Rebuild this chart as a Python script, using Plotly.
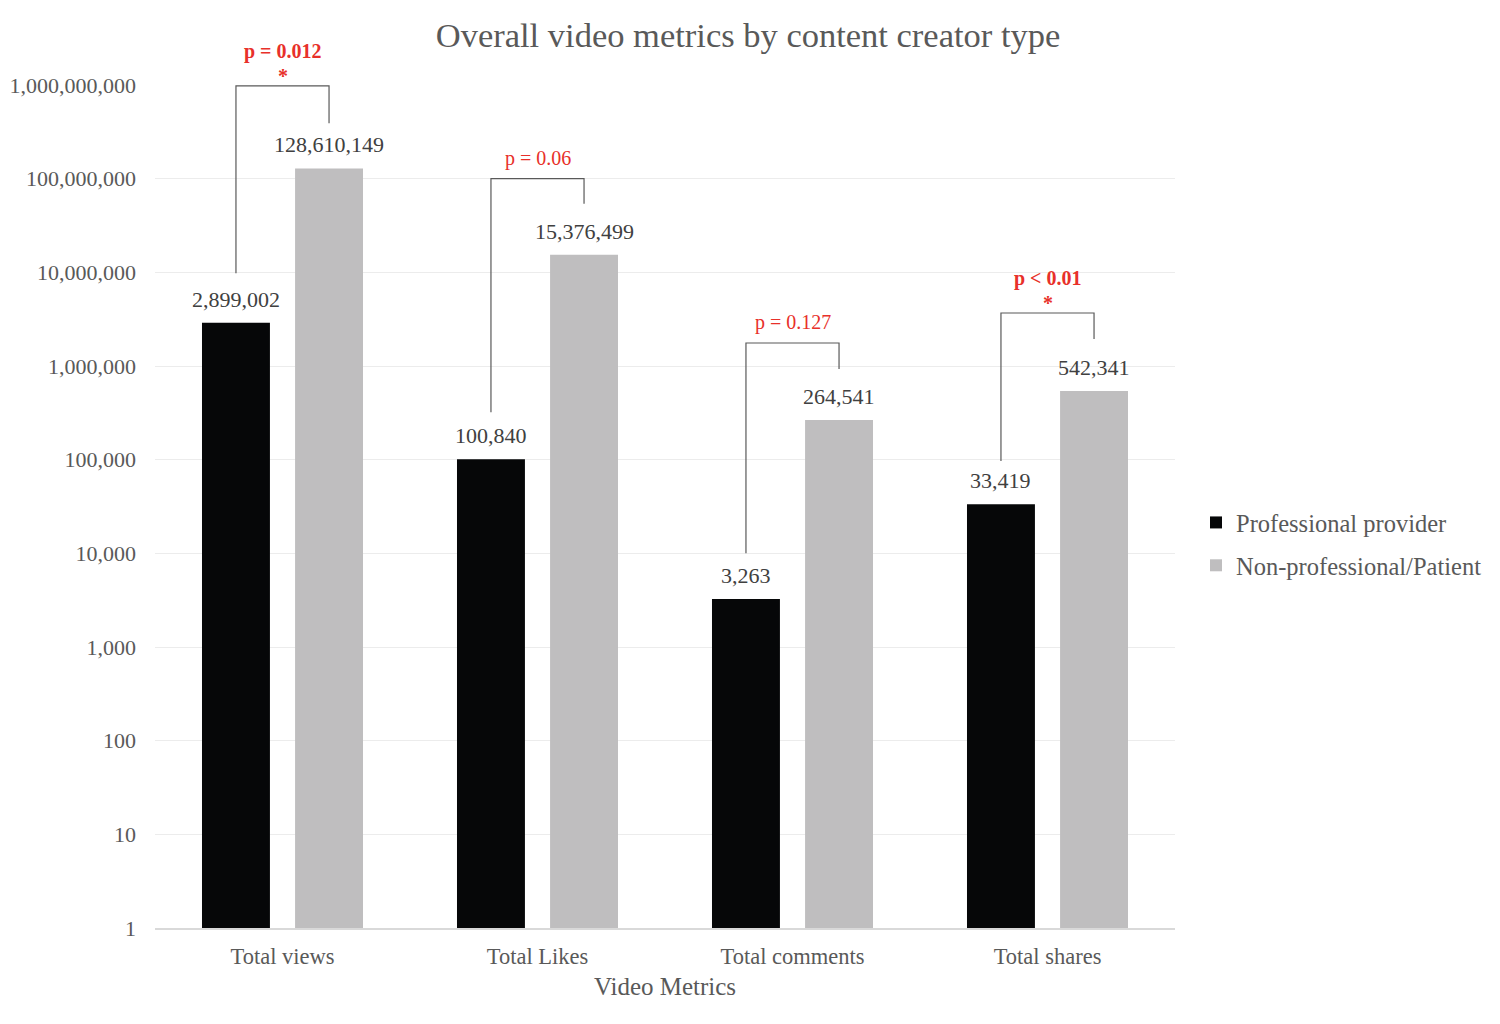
import math
import plotly.graph_objects as go

# chart data
categories = ["Total views", "Total Likes", "Total comments", "Total shares"]
professional = [2899002, 100840, 3263, 33419]
non_professional = [128610149, 15376499, 264541, 542341]

# significance brackets (one per metric)
p_labels = ["p = 0.012", "p = 0.06", "p = 0.127", "p < 0.01"]
significant = [True, False, False, True]
bracket_top = [9.8e8, 1.0e8, 1.76e6, 3.68e6]
bracket_left_end = [9.8e6, 3.2e5, 1.0e4, 9.7e4]
bracket_right_end = [3.9e8, 5.4e7, 9.3e5, 1.94e6]

y_ticks = [10 ** k for k in range(10)]

SERIF = "Liberation Serif, Times New Roman, serif"
GREY_TXT = "#595959"
LABEL_TXT = "#404040"
RED = "#e8302a"

bargap = 0.27
bargroupgap = 0.27
# centre offset of each bar inside its category slot
half = (1 - bargap) / 4

fig = go.Figure()

fig.add_trace(go.Bar(
    x=categories, y=professional, name="Professional provider",
    marker=dict(color="#060708", line=dict(width=0)),
    legendgroup="a", hoverinfo="x+y",
))
fig.add_trace(go.Bar(
    x=categories, y=non_professional, name="Non-professional/Patient",
    marker=dict(color="#bfbebf", line=dict(width=0)),
    legendgroup="b", hoverinfo="x+y",
))

annotations = []

# value labels above the bars
for i in range(len(categories)):
    for off, vals in ((-half, professional), (half, non_professional)):
        annotations.append(dict(
            x=i + off, y=math.log10(vals[i]), xref="x2", yref="y",
            text=f"{vals[i]:,}", showarrow=False, yanchor="bottom", yshift=9,
            font=dict(family=SERIF, size=22, color=LABEL_TXT),
        ))

# brackets drawn on an overlaid linear x axis so they sit on the bar centres
for i, lab in enumerate(p_labels):
    xl, xr = i - half, i + half
    fig.add_trace(go.Scatter(
        x=[xl, xl, xr, xr],
        y=[bracket_left_end[i], bracket_top[i], bracket_top[i], bracket_right_end[i]],
        mode="lines", line=dict(color="#595959", width=1.2),
        xaxis="x2", yaxis="y", showlegend=False, hoverinfo="skip",
        cliponaxis=False,
    ))
    ytop = math.log10(bracket_top[i])
    if significant[i]:
        annotations.append(dict(
            x=i, y=ytop, xref="x2", yref="y", text=f"<b>{lab}</b>",
            showarrow=False, yanchor="bottom", yshift=21,
            font=dict(family=SERIF, size=20, color=RED),
        ))
        annotations.append(dict(
            x=i, y=ytop, xref="x2", yref="y", text="<b>*</b>",
            showarrow=False, yanchor="bottom", yshift=-3,
            font=dict(family=SERIF, size=20, color=RED),
        ))
    else:
        annotations.append(dict(
            x=i, y=ytop, xref="x2", yref="y", text=lab,
            showarrow=False, yanchor="bottom", yshift=7,
            font=dict(family=SERIF, size=20, color=RED),
        ))

fig.update_layout(
    width=1492, height=1008,
    margin=dict(l=147, r=325, t=77, b=88),
    paper_bgcolor="white", plot_bgcolor="white",
    barmode="group", bargap=bargap, bargroupgap=bargroupgap,
    title=dict(
        text="Overall video metrics by content creator type",
        x=0.496, xref="container", y=0.973, yanchor="middle",
        font=dict(family=SERIF, size=34.5, color=GREY_TXT),
    ),
    xaxis=dict(
        type="category", range=[-0.5, 3.5], automargin=False,
        showline=True, linecolor="#d9d9d9", linewidth=1.5,
        showgrid=False, ticks="", ticklabelstandoff=7,
        tickfont=dict(family=SERIF, size=22.5, color=GREY_TXT),
        title=dict(text="Video Metrics", standoff=10,
                   font=dict(family=SERIF, size=25, color=GREY_TXT)),
    ),
    xaxis2=dict(
        overlaying="x", range=[-0.5, 3.5], visible=False,
    ),
    yaxis=dict(
        type="log", range=[0, 9], automargin=False,
        tickvals=y_ticks, tickformat=",d",
        showgrid=True, gridcolor="#ececec", gridwidth=1,
        showline=False, zeroline=False, ticks="", ticklabelstandoff=18,
        tickfont=dict(family=SERIF, size=22, color=GREY_TXT),
    ),
    legend=dict(
        x=1.0206, xanchor="left", y=0.4555, yanchor="middle",
        font=dict(family=SERIF, size=24.5, color=GREY_TXT),
        traceorder="grouped", tracegroupgap=8,
        itemwidth=30, bgcolor="rgba(0,0,0,0)",
    ),
    annotations=annotations,
)

fig.write_html("out.html")
